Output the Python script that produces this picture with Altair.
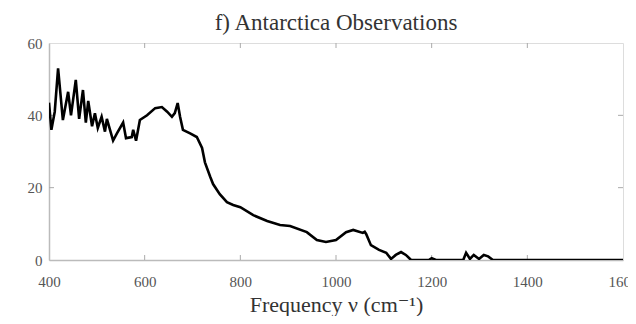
import altair as alt
import pandas as pd

freq = [400, 405, 412, 419, 429, 440, 446, 456, 463, 471, 477, 482, 490, 496, 502, 510,
        517, 521, 534, 542, 555, 561, 573, 576, 582, 590, 605, 622, 636, 647, 657, 663,
        669, 674, 680, 695, 709, 720, 726, 737, 743, 757, 772, 785, 800, 827, 856, 883,
        904, 939, 960, 979, 1000, 1021, 1036, 1056, 1060, 1063, 1073, 1090, 1105, 1115,
        1125, 1136, 1146, 1157, 1194, 1200, 1209, 1266, 1272, 1280, 1288, 1299, 1309,
        1318, 1328, 1400, 1500, 1600]
radiance = [43.5, 36, 41, 53, 38.7, 46.5, 40, 49.8, 39, 47, 38, 44, 37, 40.6, 36.5, 39.6,
            35.5, 39, 33, 35, 38, 33.7, 34, 36, 33, 38.7, 40, 42, 42.3, 41, 39.6, 40.6,
            43.4, 39.6, 36, 35, 34, 31, 27, 23, 21, 18.2, 16, 15.2, 14.6, 12.4, 10.8, 9.7,
            9.4, 7.7, 5.5, 5, 5.5, 7.7, 8.3, 7.5, 7.8, 7.2, 4.1, 2.8, 2, 0.3,
            1.4, 2.2, 1.4, 0, 0, 0.5, 0, 0, 2, 0.3, 1.4, 0.3, 1.4,
            1.0, 0, 0, 0, 0]

x_ticks = [400, 600, 800, 1000, 1200, 1400, 1600]
y_ticks = [0, 20, 40, 60]

title_text = "f) Antarctica Observations"
x_title = "Frequency \u03bd (cm\u207b\u00b9)"

df = pd.DataFrame({"freq": freq, "rad": radiance})
ticks_x = pd.DataFrame({"t": x_ticks[1:-1]})
ticks_y = pd.DataFrame({"t": y_ticks[1:-1]})

FONT = "'Liberation Serif', 'DejaVu Serif', serif"
W, H = 574, 217

xs = alt.Scale(domain=[400, 1600], nice=False, zero=False)
ys = alt.Scale(domain=[0, 60], nice=False)

line = alt.Chart(df).mark_line(color="black", strokeWidth=2.6, clip=True).encode(
    x=alt.X("freq:Q", scale=xs,
            axis=alt.Axis(values=x_ticks, format="d", title=x_title, tickSize=0,
                          labelPadding=14, labelFlush=False, labelOverlap=False,
                          labelFont=FONT, labelFontSize=15, labelColor="#555",
                          titleFont=FONT, titleFontSize=22, titleFontWeight="normal",
                          titleColor="#333", titlePadding=5, domainColor="#bbb",
                          domainWidth=1.5, grid=False)),
    y=alt.Y("rad:Q", scale=ys,
            axis=alt.Axis(values=y_ticks, format="d", title=None, tickSize=0,
                          labelPadding=7, labelFlush=False, labelOverlap=False,
                          labelFont=FONT, labelFontSize=15, labelColor="#555",
                          domainColor="#bbb", domainWidth=1.5, grid=False)),
)

tick_style = dict(color="#aaa", strokeWidth=1)
tx_bot = alt.Chart(ticks_x).mark_rule(**tick_style).encode(
    x=alt.X("t:Q", scale=xs), y=alt.value(H), y2=alt.value(H - 5))
tx_top = alt.Chart(ticks_x).mark_rule(**tick_style).encode(
    x=alt.X("t:Q", scale=xs), y=alt.value(0), y2=alt.value(5))
ty_left = alt.Chart(ticks_y).mark_rule(**tick_style).encode(
    y=alt.Y("t:Q", scale=ys), x=alt.value(0), x2=alt.value(5))
ty_right = alt.Chart(ticks_y).mark_rule(**tick_style).encode(
    y=alt.Y("t:Q", scale=ys), x=alt.value(W), x2=alt.value(W - 5))

chart = alt.layer(tx_bot, tx_top, ty_left, ty_right, line).properties(
    width=W, height=H,
    title=alt.TitleParams(title_text, font=FONT, fontSize=23, fontWeight="normal",
                          color="#333", anchor="middle", offset=1),
    autosize=alt.AutoSizeParams(type="none"),
    padding={"left": 41, "top": 35, "right": 5, "bottom": 56},
).configure_view(stroke="#ccc", strokeWidth=1.5).configure(background="white")

chart.save("out.html", embed_options={"renderer": "svg", "actions": False})
